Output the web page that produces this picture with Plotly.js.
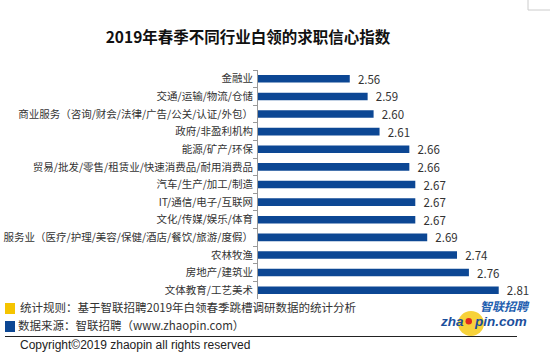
<!DOCTYPE html>
<html><head><meta charset="utf-8">
<script src="https://cdn.plot.ly/plotly-3.0.1.min.js"></script>
<style>html,body{margin:0;padding:0;background:#fff;}#chart{width:550px;height:361px;}</style>
</head><body><div id="chart"></div>
<script>
const categories = [
  "金融业",
  "交通/运输/物流/仓储",
  "商业服务（咨询/财会/法律/广告/公关/认证/外包）",
  "政府/非盈利机构",
  "能源/矿产/环保",
  "贸易/批发/零售/租赁业/快速消费品/耐用消费品",
  "汽车/生产/加工/制造",
  "IT/通信/电子/互联网",
  "文化/传媒/娱乐/体育",
  "服务业（医疗/护理/美容/保健/酒店/餐饮/旅游/度假）",
  "农林牧渔",
  "房地产/建筑业",
  "文体教育/工艺美术"
];
const values = [2.56, 2.59, 2.60, 2.61, 2.66, 2.66, 2.67, 2.67, 2.67, 2.69, 2.74, 2.76, 2.81];
const titleText = "2019年春季不同行业白领的求职信心指数";
const noteRule = "统计规则：基于智联招聘2019年白领春季跳槽调研数据的统计分析";
const noteSource = "数据来源：智联招聘（www.zhaopin.com）";
const copyrightText = "Copyright©2019 zhaopin all rights reserved";

const CJK = '"Microsoft YaHei","Noto Sans CJK SC","Noto Sans",sans-serif';
const W = 550, H = 361;
const M = {l: 258, r: 6, t: 70, b: 62};
const PW = W - M.l - M.r, PH = H - M.t - M.b;
const px = x => (x - M.l) / PW, py = y => (H - M.b - y) / PH;

const trace = {
  type: 'bar', orientation: 'h',
  x: values, y: categories,
  marker: {color: '#0c4794'},
  width: 0.43,
  text: values.map(v => '\u00a0\u00a0' + v.toFixed(2)),
  textposition: 'outside',
  textfont: {family: CJK, size: 11.5, color: '#333'},
  cliponaxis: false,
  constraintext: 'none',
  hoverinfo: 'none'
};

const ann = [];
function txt(text, x, y, size, opts) {
  ann.push(Object.assign({text: text, xref: 'paper', yref: 'paper', x: px(x), y: py(y),
    xanchor: 'left', yanchor: 'middle', showarrow: false, borderpad: 0,
    font: {family: CJK, size: size, color: '#333'}}, opts || {}));
}
txt(noteRule, 19, 307, 11.5);
txt(noteSource, 17, 325, 11.5);
txt(copyrightText, 19, 345, 12, {font: {family: 'Arial, "Liberation Sans", sans-serif', size: 12, color: '#222'}});
// logo texts
txt('<i><b>智联招聘</b></i>', 479, 305, 12, {font: {family: CJK, size: 12, color: '#1f5fb0'}});
txt('<i><b>zha</b></i>', 465, 321, 13.5, {xanchor: 'right', font: {family: 'Arial, "Liberation Sans", sans-serif', size: 13.5, color: '#1b4f9c'}});
txt('<i><b>pin.com</b></i>', 473, 321, 13.5, {font: {family: 'Arial, "Liberation Sans", sans-serif', size: 13.5, color: '#1b4f9c'}});

const shapes = [
  {type: 'rect', xref: 'paper', yref: 'paper', x0: px(5), x1: px(15), y0: py(314), y1: py(303), fillcolor: '#f5c400', line: {width: 0}},
  {type: 'rect', xref: 'paper', yref: 'paper', x0: px(5), x1: px(15), y0: py(332), y1: py(321), fillcolor: '#0c4794', line: {width: 0}},
  {type: 'line', xref: 'paper', yref: 'paper', x0: px(5), x1: px(517), y0: py(336.5), y1: py(336.5), line: {color: '#222', width: 1}},
  {type: 'circle', xref: 'paper', yref: 'paper', x0: px(458), x1: px(484), y0: py(336), y1: py(311), fillcolor: '#f7d23a', line: {width: 0}, layer: 'below'},
  {type: 'circle', xref: 'paper', yref: 'paper', x0: px(465.5), x1: px(472), y0: py(324.5), y1: py(318), fillcolor: '#e02b1e', line: {width: 0}},
  {type: 'line', xref: 'paper', yref: 'paper', x0: px(528), x1: px(528), y0: py(0), y1: py(10), line: {color: '#ccc', width: 1}},
  {type: 'line', xref: 'paper', yref: 'paper', x0: px(528), x1: px(550), y0: py(10), y1: py(10), line: {color: '#ccc', width: 1}}
];

const layout = {
  width: W, height: H,
  margin: M,
  paper_bgcolor: '#fff', plot_bgcolor: '#fff',
  showlegend: false,
  title: {text: '<b>' + titleText + '</b>', xref: 'container', x: 248 / W, xanchor: 'center',
    yref: 'container', y: 1 - 38 / H, yanchor: 'middle',
    font: {family: CJK, size: 15.5, color: '#111'}},
  xaxis: {range: [2.406, 2.886], showgrid: false, zeroline: false, showticklabels: false, ticks: '', showline: false, fixedrange: true},
  yaxis: {autorange: 'reversed', showgrid: false, zeroline: false, showline: true, linecolor: '#999', linewidth: 1,
    ticks: 'outside', tickson: 'boundaries', ticklen: 4, tickcolor: '#999',
    ticklabelstandoff: 2,
    tickfont: {family: CJK, size: 10.5, color: '#333'}, fixedrange: true},
  annotations: ann,
  shapes: shapes
};
Plotly.newPlot('chart', [trace], layout, {staticPlot: true, displayModeBar: false});
</script></body></html>
